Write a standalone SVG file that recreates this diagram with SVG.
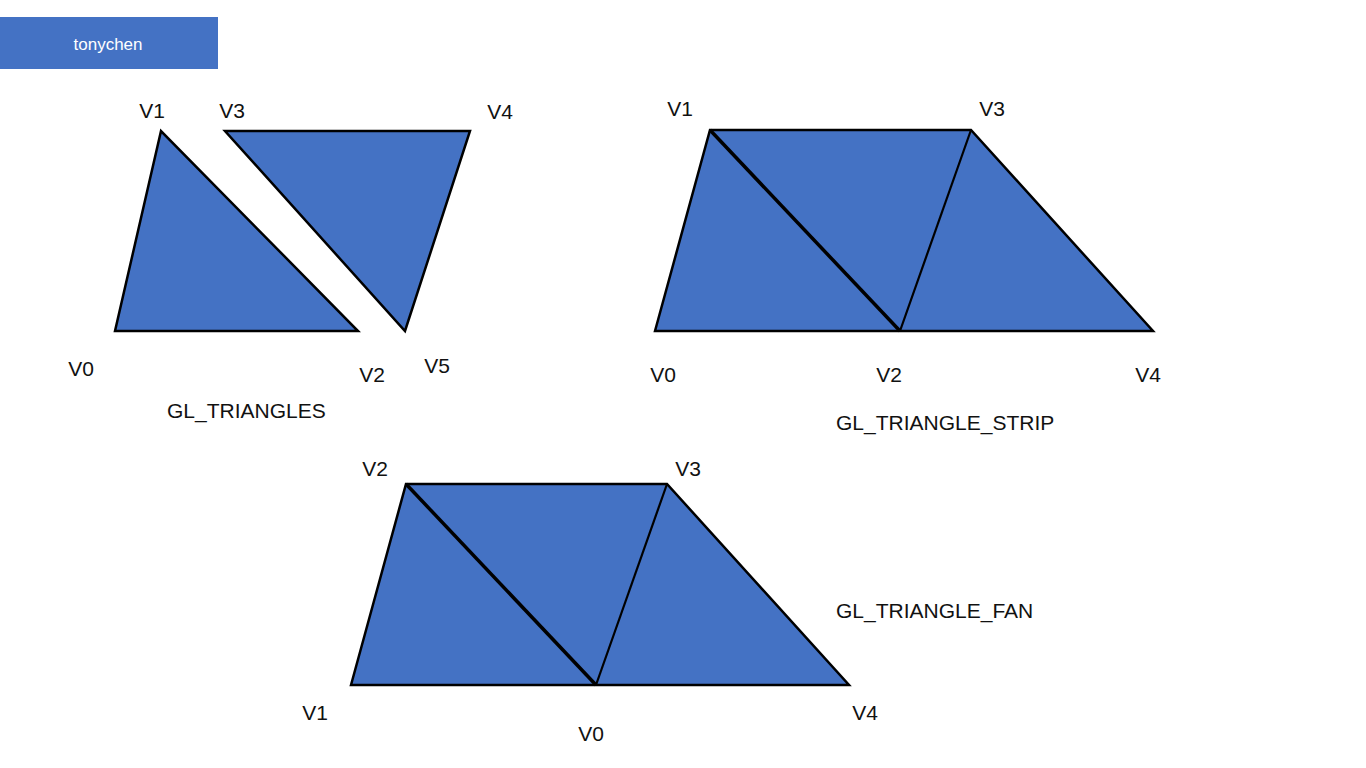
<svg xmlns="http://www.w3.org/2000/svg" width="1366" height="768" viewBox="0 0 1366 768">
<style>
.tri{fill:#4472C4;stroke:#000;stroke-width:2.5;stroke-linejoin:miter}
.thick{stroke:#000;stroke-width:3.5;fill:none}
.thin{stroke:#000;stroke-width:2.2;fill:none}
text{font-family:"Liberation Sans",Arial,sans-serif;font-size:21px;fill:#111}
.lbl{text-anchor:middle}
.hdr{fill:#fff;font-size:17px;text-anchor:middle}
</style>
<rect width="1366" height="768" fill="#fff"/>
<g id="header">
<rect x="0" y="17" width="218" height="52" fill="#4472C4"/>
<text class="hdr" x="108" y="50">tonychen</text>
</g>
<g id="gl-triangles">
<polygon class="tri" points="115,331 161,131 358,331" stroke-width="3"/>
<polygon class="tri" points="225,131 470,131 405,331" stroke-width="3"/>
<text class="lbl" x="152" y="118">V1</text>
<text class="lbl" x="232" y="118">V3</text>
<text class="lbl" x="500" y="119">V4</text>
<text class="lbl" x="81" y="376">V0</text>
<text class="lbl" x="372" y="382">V2</text>
<text class="lbl" x="437" y="373">V5</text>
<text x="167" y="418">GL_TRIANGLES</text>
</g>
<g id="gl-triangle-strip">
<polygon class="tri" points="655,331 710,130 971,130 1153,331" stroke-width="2.2"/>
<line class="thick" x1="710" y1="130" x2="900" y2="331"/>
<line class="thin" x1="971" y1="130" x2="900" y2="331"/>
<text class="lbl" x="680" y="116">V1</text>
<text class="lbl" x="992" y="116">V3</text>
<text class="lbl" x="663" y="382">V0</text>
<text class="lbl" x="889" y="382">V2</text>
<text class="lbl" x="1148" y="382">V4</text>
<text x="836" y="430">GL_TRIANGLE_STRIP</text>
</g>
<g id="gl-triangle-fan">
<polygon class="tri" points="351,685 406,484 667,484 849,685" stroke-width="2.2"/>
<line class="thick" x1="406" y1="484" x2="596" y2="685"/>
<line class="thin" x1="667" y1="484" x2="596" y2="685"/>
<text class="lbl" x="375" y="476">V2</text>
<text class="lbl" x="688" y="476">V3</text>
<text class="lbl" x="315" y="720">V1</text>
<text class="lbl" x="865" y="720">V4</text>
<text class="lbl" x="591" y="741">V0</text>
<text x="836" y="618">GL_TRIANGLE_FAN</text>
</g>
</svg>
